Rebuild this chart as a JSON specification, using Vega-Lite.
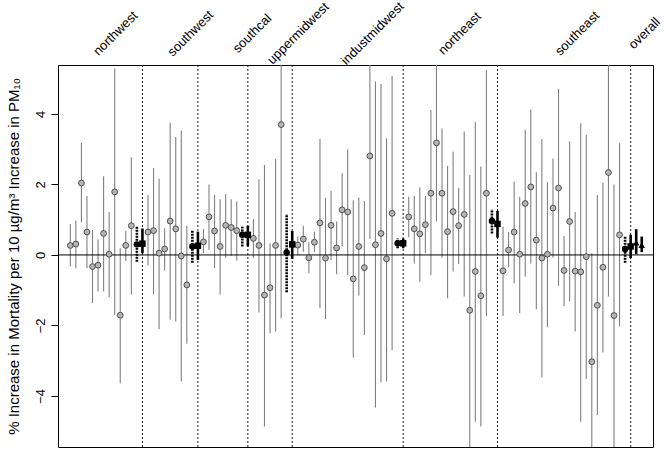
{
  "$schema": "https://vega.github.io/schema/vega-lite/v6.json",
  "width": 595,
  "height": 382,
  "autosize": {"type": "none"},
  "padding": {"left": 58, "top": 65, "right": 13, "bottom": 4},
  "background": "white",
  "config": {
    "view": {"stroke": "black", "strokeWidth": 1},
    "font": "Liberation Sans"
  },
  "data": {"values": [
    {"i":0,"est":0.27,"lo":-0.33,"hi":0.88,"type":"city","region":"northwest"},
    {"i":1,"est":0.31,"lo":-0.38,"hi":0.98,"type":"city","region":"northwest"},
    {"i":2,"est":2.04,"lo":0.93,"hi":3.18,"type":"city","region":"northwest"},
    {"i":3,"est":0.65,"lo":-0.38,"hi":1.67,"type":"city","region":"northwest"},
    {"i":4,"est":-0.33,"lo":-1.37,"hi":0.71,"type":"city","region":"northwest"},
    {"i":5,"est":-0.29,"lo":-1.04,"hi":0.44,"type":"city","region":"northwest"},
    {"i":6,"est":0.61,"lo":-1.04,"hi":2.23,"type":"city","region":"northwest"},
    {"i":7,"est":0.02,"lo":-1.2,"hi":1.22,"type":"city","region":"northwest"},
    {"i":8,"est":1.79,"lo":-1.7,"hi":5.3,"type":"city","region":"northwest"},
    {"i":9,"est":-1.71,"lo":-3.64,"hi":0.19,"type":"city","region":"northwest"},
    {"i":10,"est":0.27,"lo":-0.17,"hi":0.69,"type":"city","region":"northwest"},
    {"i":11,"est":0.83,"lo":-1.13,"hi":2.77,"type":"city","region":"northwest"},
    {"i":12,"est":0.3,"lo":-0.19,"hi":0.8,"type":"R1","region":"northwest"},
    {"i":13,"est":0.32,"lo":0.05,"hi":0.75,"type":"R2","region":"northwest"},
    {"i":14,"est":0.65,"lo":-0.3,"hi":1.7,"type":"city","region":"southwest"},
    {"i":15,"est":0.69,"lo":-1.12,"hi":2.47,"type":"city","region":"southwest"},
    {"i":16,"est":0.05,"lo":-2.11,"hi":2.16,"type":"city","region":"southwest"},
    {"i":17,"est":0.17,"lo":-0.44,"hi":0.76,"type":"city","region":"southwest"},
    {"i":18,"est":0.96,"lo":-1.84,"hi":3.76,"type":"city","region":"southwest"},
    {"i":19,"est":0.74,"lo":-1.89,"hi":3.35,"type":"city","region":"southwest"},
    {"i":20,"est":-0.03,"lo":-3.59,"hi":3.53,"type":"city","region":"southwest"},
    {"i":21,"est":-0.85,"lo":-2.52,"hi":0.83,"type":"city","region":"southwest"},
    {"i":22,"est":0.24,"lo":-0.22,"hi":0.71,"type":"R1","region":"southwest"},
    {"i":23,"est":0.26,"lo":-0.14,"hi":0.66,"type":"R2","region":"southwest"},
    {"i":24,"est":0.37,"lo":0.05,"hi":0.74,"type":"city","region":"southcal"},
    {"i":25,"est":1.08,"lo":0.14,"hi":2.0,"type":"city","region":"southcal"},
    {"i":26,"est":0.68,"lo":-0.38,"hi":1.7,"type":"city","region":"southcal"},
    {"i":27,"est":0.24,"lo":-1.12,"hi":1.58,"type":"city","region":"southcal"},
    {"i":28,"est":0.84,"lo":-0.08,"hi":1.73,"type":"city","region":"southcal"},
    {"i":29,"est":0.78,"lo":-0.03,"hi":1.58,"type":"city","region":"southcal"},
    {"i":30,"est":0.69,"lo":-0.16,"hi":1.52,"type":"city","region":"southcal"},
    {"i":31,"est":0.57,"lo":0.24,"hi":0.8,"type":"R1","region":"southcal"},
    {"i":32,"est":0.57,"lo":0.24,"hi":0.83,"type":"R2","region":"southcal"},
    {"i":33,"est":0.47,"lo":-0.09,"hi":1.01,"type":"city","region":"uppermidwest"},
    {"i":34,"est":0.27,"lo":-1.63,"hi":2.15,"type":"city","region":"uppermidwest"},
    {"i":35,"est":-1.14,"lo":-4.87,"hi":2.55,"type":"city","region":"uppermidwest"},
    {"i":36,"est":-0.93,"lo":-2.22,"hi":0.33,"type":"city","region":"uppermidwest"},
    {"i":37,"est":0.27,"lo":-2.17,"hi":2.72,"type":"city","region":"uppermidwest"},
    {"i":38,"est":3.7,"lo":-1.8,"hi":5.6,"type":"city","region":"uppermidwest"},
    {"i":39,"est":0.07,"lo":-1.06,"hi":1.16,"type":"R1","region":"uppermidwest"},
    {"i":40,"est":0.3,"lo":-0.11,"hi":0.68,"type":"R2","region":"uppermidwest"},
    {"i":41,"est":0.28,"lo":0.0,"hi":0.52,"type":"city","region":"industmidwest"},
    {"i":42,"est":0.45,"lo":0.09,"hi":0.83,"type":"city","region":"industmidwest"},
    {"i":43,"est":-0.08,"lo":-0.52,"hi":0.36,"type":"city","region":"industmidwest"},
    {"i":44,"est":0.36,"lo":0.08,"hi":0.66,"type":"city","region":"industmidwest"},
    {"i":45,"est":0.91,"lo":-1.51,"hi":3.3,"type":"city","region":"industmidwest"},
    {"i":46,"est":-0.09,"lo":-1.82,"hi":1.62,"type":"city","region":"industmidwest"},
    {"i":47,"est":0.84,"lo":-0.14,"hi":1.82,"type":"city","region":"industmidwest"},
    {"i":48,"est":0.2,"lo":-0.55,"hi":0.95,"type":"city","region":"industmidwest"},
    {"i":49,"est":1.28,"lo":0.24,"hi":2.32,"type":"city","region":"industmidwest"},
    {"i":50,"est":1.22,"lo":-0.57,"hi":3.0,"type":"city","region":"industmidwest"},
    {"i":51,"est":-0.68,"lo":-2.91,"hi":1.55,"type":"city","region":"industmidwest"},
    {"i":52,"est":0.24,"lo":-1.15,"hi":1.63,"type":"city","region":"industmidwest"},
    {"i":53,"est":-0.36,"lo":-2.27,"hi":1.53,"type":"city","region":"industmidwest"},
    {"i":54,"est":2.81,"lo":0.45,"hi":5.6,"type":"city","region":"industmidwest"},
    {"i":55,"est":0.29,"lo":-4.33,"hi":4.92,"type":"city","region":"industmidwest"},
    {"i":56,"est":0.61,"lo":-3.62,"hi":4.85,"type":"city","region":"industmidwest"},
    {"i":57,"est":-0.11,"lo":-3.59,"hi":3.31,"type":"city","region":"industmidwest"},
    {"i":58,"est":1.18,"lo":-2.7,"hi":5.08,"type":"city","region":"industmidwest"},
    {"i":59,"est":0.33,"lo":0.19,"hi":0.47,"type":"R1","region":"industmidwest"},
    {"i":60,"est":0.33,"lo":0.19,"hi":0.47,"type":"R2","region":"industmidwest"},
    {"i":61,"est":1.08,"lo":0.5,"hi":1.65,"type":"city","region":"northeast"},
    {"i":62,"est":0.74,"lo":-0.24,"hi":1.67,"type":"city","region":"northeast"},
    {"i":63,"est":0.6,"lo":-0.76,"hi":1.92,"type":"city","region":"northeast"},
    {"i":64,"est":0.86,"lo":0.05,"hi":1.67,"type":"city","region":"northeast"},
    {"i":65,"est":1.75,"lo":-0.57,"hi":4.11,"type":"city","region":"northeast"},
    {"i":66,"est":3.18,"lo":0.95,"hi":5.6,"type":"city","region":"northeast"},
    {"i":67,"est":1.75,"lo":-0.08,"hi":3.59,"type":"city","region":"northeast"},
    {"i":68,"est":0.66,"lo":-1.23,"hi":2.53,"type":"city","region":"northeast"},
    {"i":69,"est":1.23,"lo":-0.47,"hi":2.93,"type":"city","region":"northeast"},
    {"i":70,"est":0.83,"lo":-0.26,"hi":1.91,"type":"city","region":"northeast"},
    {"i":71,"est":1.15,"lo":-1.18,"hi":3.5,"type":"city","region":"northeast"},
    {"i":72,"est":-1.57,"lo":-5.6,"hi":2.27,"type":"city","region":"northeast"},
    {"i":73,"est":-0.47,"lo":-4.73,"hi":3.77,"type":"city","region":"northeast"},
    {"i":74,"est":-1.16,"lo":-4.87,"hi":2.51,"type":"city","region":"northeast"},
    {"i":75,"est":1.75,"lo":-1.73,"hi":5.25,"type":"city","region":"northeast"},
    {"i":76,"est":0.96,"lo":0.61,"hi":1.3,"type":"R1","region":"northeast"},
    {"i":77,"est":0.88,"lo":0.49,"hi":1.25,"type":"R2","region":"northeast"},
    {"i":78,"est":-0.45,"lo":-1.73,"hi":0.8,"type":"city","region":"southeast"},
    {"i":79,"est":0.14,"lo":-0.35,"hi":0.65,"type":"city","region":"southeast"},
    {"i":80,"est":0.65,"lo":-0.8,"hi":2.08,"type":"city","region":"southeast"},
    {"i":81,"est":0.02,"lo":-1.65,"hi":1.65,"type":"city","region":"southeast"},
    {"i":82,"est":1.46,"lo":-0.61,"hi":3.55,"type":"city","region":"southeast"},
    {"i":83,"est":1.93,"lo":-0.24,"hi":4.13,"type":"city","region":"southeast"},
    {"i":84,"est":0.42,"lo":-1.54,"hi":2.35,"type":"city","region":"southeast"},
    {"i":85,"est":-0.09,"lo":-3.48,"hi":3.29,"type":"city","region":"southeast"},
    {"i":86,"est":0.02,"lo":-2.05,"hi":2.07,"type":"city","region":"southeast"},
    {"i":87,"est":1.33,"lo":-0.08,"hi":2.74,"type":"city","region":"southeast"},
    {"i":88,"est":1.9,"lo":-0.88,"hi":4.71,"type":"city","region":"southeast"},
    {"i":89,"est":-0.44,"lo":-1.45,"hi":0.54,"type":"city","region":"southeast"},
    {"i":90,"est":0.95,"lo":-1.32,"hi":3.22,"type":"city","region":"southeast"},
    {"i":91,"est":-0.46,"lo":-2.17,"hi":1.22,"type":"city","region":"southeast"},
    {"i":92,"est":-0.48,"lo":-4.73,"hi":3.74,"type":"city","region":"southeast"},
    {"i":93,"est":-0.05,"lo":-3.52,"hi":3.41,"type":"city","region":"southeast"},
    {"i":94,"est":-3.03,"lo":-5.6,"hi":0.05,"type":"city","region":"southeast"},
    {"i":95,"est":-1.43,"lo":-4.54,"hi":1.7,"type":"city","region":"southeast"},
    {"i":96,"est":-0.35,"lo":-2.77,"hi":2.05,"type":"city","region":"southeast"},
    {"i":97,"est":2.34,"lo":-1.18,"hi":5.6,"type":"city","region":"southeast"},
    {"i":98,"est":-1.72,"lo":-5.6,"hi":2.0,"type":"city","region":"southeast"},
    {"i":99,"est":0.57,"lo":-2.03,"hi":3.17,"type":"city","region":"southeast"},
    {"i":100,"est":0.17,"lo":-0.22,"hi":0.54,"type":"R1","region":"southeast"},
    {"i":101,"est":0.24,"lo":-0.09,"hi":0.57,"type":"R2","region":"southeast"},
    {"i":102,"est":0.35,"lo":0.02,"hi":0.73,"type":"overall","region":"overall"},
    {"i":103,"est":0.28,"lo":0.08,"hi":0.52,"type":"overall","region":"overall"}
  ]},
  "layer": [
    {
      "transform": [{"filter": "datum.type == 'city'"}],
      "mark": {"type": "rule", "color": "#808080", "strokeWidth": 1.1, "clip": true},
      "encoding": {
        "x": {"field": "i", "type": "quantitative", "scale": {"domain": [-2.22, 105.03], "nice": false, "zero": false},
          "axis": {"orient": "top", "title": null, "values": [8.06, 21.6, 32.7, 41.0, 54.4, 70.1, 91.3, 103.4],
            "labelExpr": "datum.value < 10 ? 'northwest' : datum.value < 25 ? 'southwest' : datum.value < 35 ? 'southcal' : datum.value < 45 ? 'uppermidwest' : datum.value < 60 ? 'industmidwest' : datum.value < 80 ? 'northeast' : datum.value < 95 ? 'southeast' : 'overall'",
            "labelAngle": -45, "labelAlign": "center", "labelBaseline": "middle", "labelPadding": 32,
            "ticks": false, "tickSize": 0, "domain": false, "grid": false, "labelOverlap": false, "labelFlush": false, "labelBound": false,
            "labelFontSize": 13, "labelColor": "black", "labelFont": "Liberation Sans"}},
        "y": {"field": "lo", "type": "quantitative", "scale": {"domain": [-5.45, 5.39], "nice": false, "zero": false},
          "axis": {"orient": "left", "values": [-4, -2, 0, 2, 4], "labelAngle": -90, "labelAlign": "center", "labelBaseline": "bottom",
            "tickSize": 7, "tickColor": "black", "tickWidth": 1, "labelPadding": 4, "domain": false, "grid": false,
            "labelFontSize": 13, "labelColor": "black", "labelFont": "Liberation Sans",
            "title": "% Increase in Mortality per 10 µg/m³ Increase in PM₁₀", "titleFontSize": 15, "titleFontWeight": "normal",
            "titleColor": "black", "titleFont": "Liberation Sans", "titlePadding": 13}},
        "y2": {"field": "hi"}
      }
    },
    {
      "transform": [{"filter": "datum.type == 'R2'"}],
      "mark": {"type": "rule", "color": "black", "strokeWidth": 0.9, "strokeDash": [2, 2], "clip": true},
      "encoding": {
        "x": {"field": "i", "type": "quantitative"}
      }
    },
    {
      "data": {"values": [{"ref": 0}]},
      "mark": {"type": "rule", "color": "black", "strokeWidth": 1, "clip": true},
      "encoding": {
        "y": {"field": "ref", "type": "quantitative"}
      }
    },
    {
      "transform": [{"filter": "datum.type == 'R1'"}],
      "mark": {"type": "rule", "color": "black", "strokeWidth": 2.6, "strokeDash": [2, 1], "clip": true},
      "encoding": {
        "x": {"field": "i", "type": "quantitative"},
        "y": {"field": "lo", "type": "quantitative"},
        "y2": {"field": "hi"}
      }
    },
    {
      "transform": [{"filter": "datum.type == 'R2' || datum.type == 'overall'"}],
      "mark": {"type": "rule", "color": "black", "strokeWidth": 2.6, "clip": true},
      "encoding": {
        "x": {"field": "i", "type": "quantitative"},
        "y": {"field": "lo", "type": "quantitative"},
        "y2": {"field": "hi"}
      }
    },
    {
      "transform": [{"filter": "datum.type == 'city'"}],
      "mark": {"type": "point", "shape": "circle", "filled": true, "fill": "#b4b4b4", "stroke": "#333333", "strokeWidth": 0.8, "size": 34, "opacity": 1, "clip": true},
      "encoding": {
        "x": {"field": "i", "type": "quantitative"},
        "y": {"field": "est", "type": "quantitative"}
      }
    },
    {
      "transform": [{"filter": "datum.type != 'city'"}],
      "mark": {"type": "point", "filled": true, "color": "black", "size": 42, "opacity": 1, "clip": true},
      "encoding": {
        "x": {"field": "i", "type": "quantitative"},
        "y": {"field": "est", "type": "quantitative"},
        "shape": {"field": "type", "type": "nominal", "scale": {"domain": ["R1", "R2", "overall"], "range": ["circle", "square", "triangle-up"]}, "legend": null}
      }
    }
  ]
}
